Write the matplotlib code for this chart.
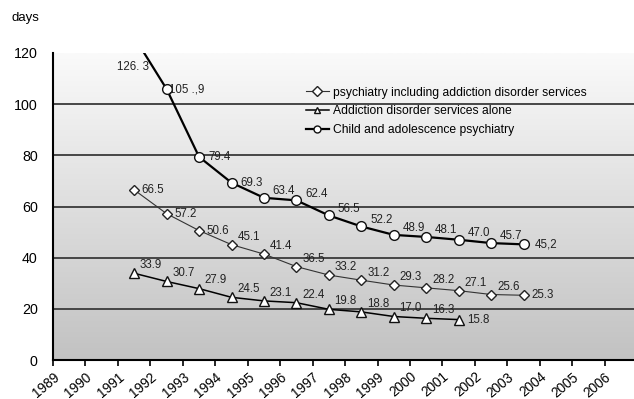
import matplotlib
matplotlib.use('Agg')
import matplotlib.pyplot as plt
import numpy as np

plt.rcParams['font.family'] = ['Liberation Sans', 'DejaVu Sans']

# Data (points sit mid-year)
years_long = [1991.5, 1992.5, 1993.5, 1994.5, 1995.5, 1996.5, 1997.5,
              1998.5, 1999.5, 2000.5, 2001.5, 2002.5, 2003.5]
years_short = years_long[:11]

psych = [66.5, 57.2, 50.6, 45.1, 41.4, 36.5, 33.2, 31.2, 29.3, 28.2, 27.1, 25.6, 25.3]
psych_lbl = ['66.5', '57.2', '50.6', '45.1', '41.4', '36.5', '33.2', '31.2',
             '29.3', '28.2', '27.1', '25.6', '25.3']

addict = [33.9, 30.7, 27.9, 24.5, 23.1, 22.4, 19.8, 18.8, 17.0, 16.3, 15.8]
addict_lbl = ['33.9', '30.7', '27.9', '24.5', '23.1', '22.4', '19.8', '18.8',
              '17.0', '16.3', '15.8']

child = [126.3, 105.9, 79.4, 69.3, 63.4, 62.4, 56.5, 52.2, 48.9, 48.1, 47.0, 45.7, 45.2]
child_lbl = ['126. 3', '105 .,9', '79.4', '69.3', '63.4', '62.4', '56.5', '52.2',
             '48.9', '48.1', '47.0', '45.7', '45,2']

xticks = list(range(1989, 2007))
yticks = [0, 20, 40, 60, 80, 100, 120]

fig = plt.figure(figsize=(6.34, 3.99), dpi=100)
ax = fig.add_axes([53/634, 39/399, 581/634, 307/399])
ax.set_xlim(1989, 2006.9)
ax.set_ylim(0, 120)

# gradient background
grad = np.linspace(0, 1, 256).reshape(-1, 1)
cmap = matplotlib.colors.LinearSegmentedColormap.from_list('g', ['#c2c2c2', '#fafafa'])
ax.imshow(grad, aspect='auto', cmap=cmap, origin='lower',
          extent=[1989, 2006.9, 0, 120], zorder=0)

for y in [20, 40, 60, 80, 100]:
    ax.axhline(y, color='#3a3a3a', lw=1.3, zorder=1)

ax.plot(years_long, psych, color='#333333', lw=0.8, marker='D', ms=5.2,
        mfc='white', mec='#222222', mew=1.0, zorder=3,
        label='psychiatry including addiction disorder services')
ax.plot(years_short, addict, color='black', lw=1.1, marker='^', ms=7,
        mfc='white', mec='#111111', mew=1.0, zorder=3,
        label='Addiction disorder services alone')
ax.plot(years_long, child, color='black', lw=1.6, marker='o', ms=7,
        mfc='white', mec='#111111', mew=1.0, zorder=3,
        label='Child and adolescence psychiatry')

lblcol = '#222222'
fs = 8.3
for i, (x, y, t) in enumerate(zip(years_long, child, child_lbl)):
    if i == 0:
        ax.text(x - 0.05, 114.6, t, fontsize=fs, color=lblcol, ha='center', va='center')
    elif i == len(child) - 1:
        ax.text(x + 0.7, y, t, fontsize=fs, color=lblcol, ha='center', va='center')
    elif i in (1, 2, 3):
        ax.text(x + 0.62, y, t, fontsize=fs, color=lblcol, ha='center', va='center')
    else:
        ax.text(x + 0.62, y + 2.6, t, fontsize=fs, color=lblcol, ha='center', va='center')

for i, (x, y, t) in enumerate(zip(years_long, psych, psych_lbl)):
    if i < 3 or i == len(psych) - 1:
        ax.text(x + 0.58, y, t, fontsize=fs, color=lblcol, ha='center', va='center')
    else:
        ax.text(x + 0.53, y + 3.0, t, fontsize=fs, color=lblcol, ha='center', va='center')

for i, (x, y, t) in enumerate(zip(years_short, addict, addict_lbl)):
    if i == len(addict) - 1:
        ax.text(x + 0.6, y, t, fontsize=fs, color=lblcol, ha='center', va='center')
    else:
        ax.text(x + 0.52, y + 3.2, t, fontsize=fs, color=lblcol, ha='center', va='center')

ax.set_xticks(xticks)
ax.set_xticklabels([str(x) for x in xticks], rotation=40, ha='right',
                   rotation_mode='anchor', fontsize=9.8)
ax.set_yticks(yticks)
ax.set_yticklabels([str(y) for y in yticks], fontsize=10.3)
ax.tick_params(axis='y', length=0, pad=11)
ax.tick_params(axis='x', direction='out', length=4, width=1.2, pad=3)

for s in ['top', 'right']:
    ax.spines[s].set_visible(False)
ax.spines['left'].set_linewidth(1.5)
ax.spines['bottom'].set_linewidth(1.5)

leg = ax.legend(loc='upper left', bbox_to_anchor=(0.425, 0.91), frameon=False,
                fontsize=8.7, handlelength=1.9, handletextpad=0.3,
                labelspacing=0.55, borderpad=0)
for h in leg.legend_handles:
    h.set_markersize(5)

fig.text(12/634, 1 - 18/399, 'days', fontsize=9.5, ha='left', va='center')

plt.savefig('out.png', dpi=100)
